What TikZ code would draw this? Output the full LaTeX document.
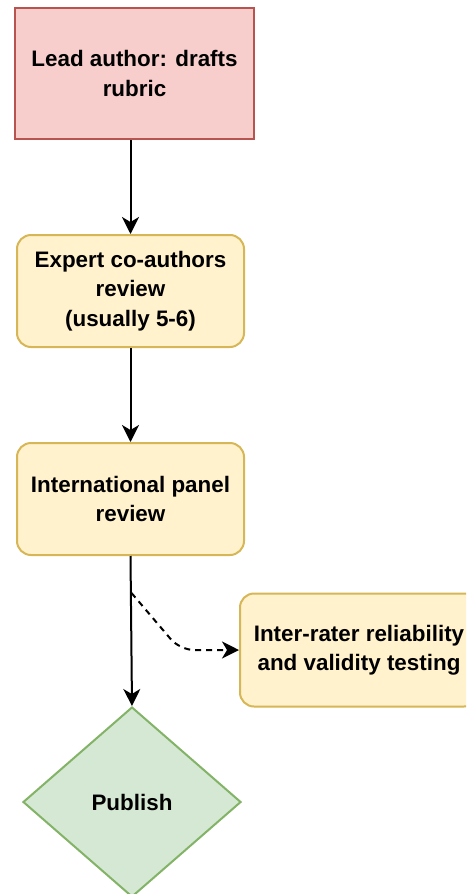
\documentclass[tikz,border=0pt]{standalone}
\usepackage{fontspec}
\setmainfont{Liberation Sans}
\usetikzlibrary{arrows.meta,shapes.geometric}
\definecolor{redfill}{HTML}{F8CECC}
\definecolor{redline}{HTML}{B85450}
\definecolor{yelfill}{HTML}{FFF2CC}
\definecolor{yelline}{HTML}{D6B656}
\definecolor{grnfill}{HTML}{D5E8D4}
\definecolor{grnline}{HTML}{82B366}
\begin{document}
\begin{tikzpicture}[x=1pt,y=-1pt,
  txt/.style={font=\fontsize{22.4}{29.5}\selectfont\bfseries, align=center, inner sep=0pt},
  redbox/.style={txt, draw=redline, fill=redfill, line width=2pt, minimum width=239pt, minimum height=131pt},
  yelbox/.style={txt, draw=yelline, fill=yelfill, line width=2pt, rounded corners=14pt, minimum width=227pt, minimum height=112pt},
  grndia/.style={txt, draw=grnline, fill=grnfill, line width=2pt, diamond, minimum width=218pt, minimum height=190pt},
  tip/.style={-{Stealth[length=17pt,width=17pt,inset=5pt]}},
  arr/.style={line width=2pt, tip},
]
\useasboundingbox (0,0) rectangle (466,894);
\begin{scope}
\clip (0,0) rectangle (466,894);
\node[redbox] (lead) at (134.5,73.5) {Lead author: drafts\\rubric};
\node[yelbox] (expert) at (130.5,291) {Expert co-authors\\review\\(usually 5-6)};
\node[yelbox] (intl) at (130.5,499) {International panel\\review};
\node[yelbox, minimum width=238pt, minimum height=113pt] (irr) at (359,650) {Inter-rater reliability\\and validity testing};
\node[grndia] (pub) at (132,802) {Publish};
\coordinate (split) at (131.5,593);
\draw[arr] (lead.south -| expert.north) -- (expert.north);
\draw[arr] (expert) -- (intl);
\draw[arr] (intl.south) -- (pub.north);
\draw[arr, dash pattern=on 6pt off 5pt, rounded corners=14pt] (split) -- (180,650) -- (irr.west);
\end{scope}
\end{tikzpicture}
\end{document}
